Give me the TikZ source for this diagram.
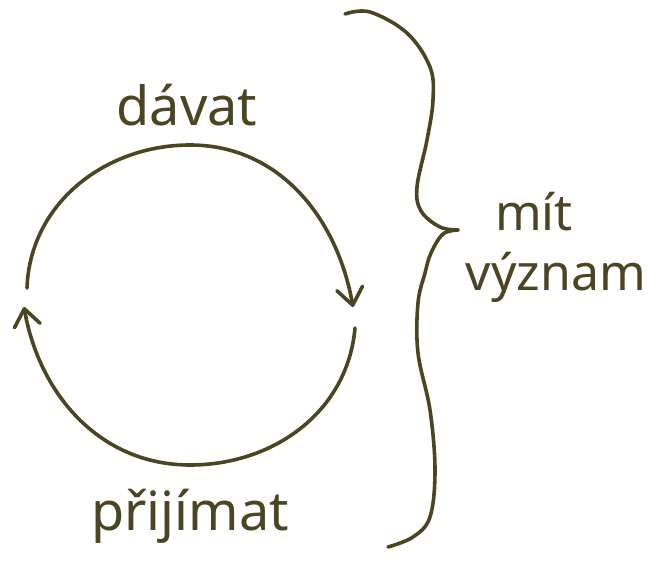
\documentclass[tikz,border=0pt]{standalone}
\usepackage{fontspec}
\setmainfont{Noto Sans}
\usetikzlibrary{arrows.meta}
\definecolor{ink}{RGB}{75,69,33}
\tikzset{
  stroke/.style={draw=ink, line width=3.6pt, line cap=round, line join=round},
  barb/.style={-{Straight Barb[length=17pt,width=26pt,round]}},
  word/.style={text=ink, font=\fontsize{54}{60}\selectfont, inner sep=0pt, anchor=base},
  smallword/.style={word, font=\fontsize{50}{56}\selectfont}
}
\begin{document}
\begin{tikzpicture}[x=1pt,y=1pt]
\useasboundingbox (0,0) rectangle (649,-562);
% circle points
\coordinate (L) at (27,-288);
\coordinate (T) at (190,-145);
\coordinate (R) at (353,-307);
\coordinate (R2) at (355,-328);
\coordinate (B) at (190,-465);
\coordinate (L2) at (24,-307);
\draw[stroke, barb] (L) to[out=88,in=180] (T) to[out=0,in=100] (R);
\draw[stroke, barb] (R2) to[out=-95,in=0] (B) to[out=180,in=-80] (L2);
% brace
\coordinate (tip) at (458,-230);
\draw[stroke] plot[smooth, tension=0.6] coordinates {(345,-14) (370,-12) (407,-33) (430,-67) (433,-100) (427,-140) (417,-187) (421,-211) (440,-227) (458,-230)};
\draw[stroke] plot[smooth, tension=0.6] coordinates {(458,-230) (443,-234) (431,-253) (425,-273) (418,-303) (418,-353) (430,-410) (435,-470) (430,-517) (413,-537) (388,-547)};
% labels
\node[word] (davat) at (187,-125) {dávat};
\node[word] (prijimat) at (190,-530) {přijímat};
\node[smallword] (mit) at (534,-230) {mít};
\node[smallword] (vyznam) at (556,-290) {význam};
\end{tikzpicture}
\end{document}
